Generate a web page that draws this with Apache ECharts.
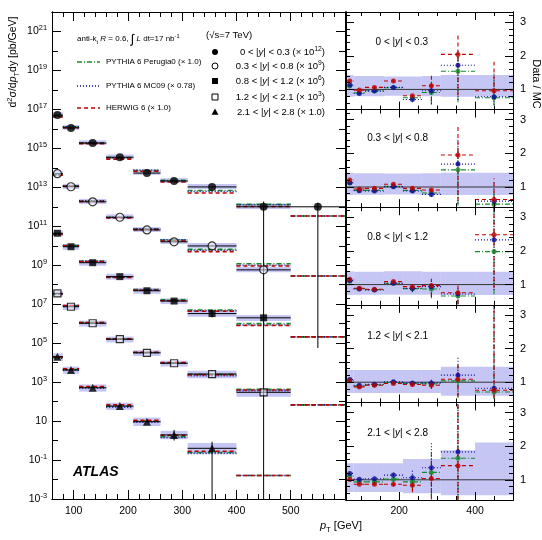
<!DOCTYPE html>
<html>
<head>
<meta charset="utf-8">
<script src="https://cdn.jsdelivr.net/npm/echarts@6/dist/echarts.min.js"></script>
<style>
  html, body { margin: 0; padding: 0; background: #fff; }
  #chart { width: 542px; height: 540px; }
</style>
</head>
<body>
<div id="chart"></div>
<script>
  // pT bins [GeV]
  var binLo = [60, 80, 110, 160, 210, 260, 310, 400, 500];
  var binHi = [80, 110, 160, 210, 260, 310, 400, 500, 600];

  var yBinNames = ['0 < |y| < 0.3', '0.3 < |y| < 0.8', '0.8 < |y| < 1.2', '1.2 < |y| < 2.1', '2.1 < |y| < 2.8'];
  var yBinScale = ['10{sup|12}', '10{sup|9}', '10{sup|6}', '10{sup|3}', '1.0'];

  // measured d2sigma/dpT dy [pb/GeV], already multiplied by the factor in the legend
  var xs_y0 = [5.1e16, 1.12e16, 1.86e15, 3.5e14, 5.4e13, 2.1e13, 1.05e13, 1.0e12, 1.0e12];
  var xs_y1 = [5.0e13, 1.07e13, 1.8e12, 2.9e11, 6.5e10, 1.6e10, 9.8e9, 5.8e8, null];
  var xs_y2 = [4.4e10, 8.9e9, 1.35e9, 2.6e8, 4.9e7, 1.45e7, 3.3e6, 2.0e6, null];
  var xs_y3 = [3.6e7, 7.4e6, 1.05e6, 1.6e5, 3.2e4, 9.3e3, 2.6e3, 3.0e2, null];
  var xs_y4 = [2.0e4, 4.2e3, 5.1e2, 59, 9.3, 1.95, 0.40, null, null];

  // visible statistical error bars on the spectrum (low, high)
  var errLo_y0 = [null, null, null, null, null, null, null, 1e-3, 5.6e4];
  var errHi_y0 = [null, null, null, null, null, null, null, 1.86e12, 1.6e12];
  var errLo_y2 = [null, null, null, null, null, null, 2.1e6, null, null];
  var errHi_y2 = [null, null, null, null, null, null, 5.2e6, null, null];
  var errLo_y4 = [null, null, null, null, null, 1.0, 1e-3, null, null];
  var errHi_y4 = [null, null, null, null, null, 3.5, 0.87, null, null];

  // MC prediction where no data point is shown
  var mcOnly_y0 = [null, null, null, null, null, null, null, null, 3.4e11];
  var mcOnly_y1 = [null, null, null, null, null, null, null, null, 2.8e8];
  var mcOnly_y2 = [null, null, null, null, null, null, null, null, 2.1e5];
  var mcOnly_y3 = [null, null, null, null, null, null, null, null, 68];
  var mcOnly_y4 = [null, null, null, null, null, null, null, 1.6e-2, null];

  // Data / MC, pT bins 60..500
  var herwig_y0  = [1.25, 0.98, 1.06, 1.25, 0.81, 1.11, 2.04, 0.96];
  var mc09_y0    = [1.13, 0.88, 0.95, 1.06, 0.70, 0.96, 1.72, 0.78];
  var perugia_y0 = [1.10, 0.90, 0.96, 1.05, 0.75, 0.91, 1.54, 0.75];
  var herwig_y1  = [1.21, 0.94, 0.96, 1.08, 0.96, 0.91, 1.95, 0.63];
  var mc09_y1    = [1.13, 0.89, 0.88, 1.01, 0.88, 0.78, 1.68, 0.58];
  var perugia_y1 = [1.12, 0.90, 0.90, 1.02, 0.90, 0.82, 1.51, 0.49];
  var herwig_y2  = [1.16, 0.89, 0.86, 1.09, 0.94, 0.97, 0.76, 2.48];
  var mc09_y2    = [1.12, 0.87, 0.84, 1.04, 0.89, 0.94, 0.72, 2.33];
  var perugia_y2 = [1.10, 0.88, 0.85, 1.04, 0.88, 0.87, 0.66, 1.98];
  var herwig_y3  = [1.04, 0.86, 0.91, 0.96, 0.93, 0.91, 1.09, 0.76];
  var mc09_y3    = [1.08, 0.91, 0.94, 1.01, 0.98, 0.98, 1.21, 0.82];
  var perugia_y3 = [1.06, 0.89, 0.92, 0.99, 0.96, 0.95, 1.04, 0.71];
  var herwig_y4  = [1.01, 0.87, 0.87, 0.87, 0.84, 1.04, 1.42, null];
  var mc09_y4    = [1.19, 1.02, 1.03, 1.14, 1.06, 1.36, 1.83, null];
  var perugia_y4 = [1.11, 0.94, 0.94, 1.02, 0.94, 1.22, 1.64, null];

  // relative systematic uncertainty band
  var sysHi_y0 = [1.43, 1.40, 1.40, 1.38, 1.38, 1.40, 1.43, 1.43];
  var sysLo_y0 = [0.78, 0.80, 0.80, 0.81, 0.81, 0.80, 0.78, 0.78];
  var sysHi_y1 = [1.42, 1.41, 1.41, 1.40, 1.40, 1.41, 1.42, 1.42];
  var sysLo_y1 = [0.76, 0.77, 0.77, 0.78, 0.78, 0.77, 0.76, 0.76];
  var sysHi_y2 = [1.40, 1.38, 1.38, 1.40, 1.40, 1.38, 1.38, 1.38];
  var sysLo_y2 = [0.69, 0.70, 0.70, 0.70, 0.70, 0.70, 0.69, 0.69];
  var sysHi_y3 = [1.36, 1.36, 1.36, 1.36, 1.36, 1.36, 1.46, 1.46];
  var sysLo_y3 = [0.68, 0.68, 0.68, 0.68, 0.68, 0.68, 0.60, 0.60];
  var sysHi_y4 = [1.49, 1.49, 1.49, 1.49, 1.62, 1.62, 1.88, 2.11];
  var sysLo_y4 = [0.64, 0.64, 0.64, 0.64, 0.60, 0.60, 0.54, 0.54];

  // relative stat. error on the ratio (up, down)
  var statUp_y0 = [0.03, 0.03, 0.03, 0.04, 0.08, 0.28, 0.28, 0.90];
  var statDn_y0 = [0.03, 0.03, 0.03, 0.04, 0.12, 0.40, 0.60, 0.30];
  var statUp_y1 = [0.03, 0.03, 0.03, 0.04, 0.05, 0.10, 0.45, 1.00];
  var statDn_y1 = [0.03, 0.03, 0.03, 0.04, 0.05, 0.10, 0.70, 0.70];
  var statUp_y2 = [0.03, 0.03, 0.03, 0.04, 0.10, 0.21, 0.30, 1.00];
  var statDn_y2 = [0.03, 0.03, 0.03, 0.04, 0.12, 0.32, 0.42, 0.64];
  var statUp_y3 = [0.03, 0.03, 0.03, 0.04, 0.08, 0.12, 0.45, 4.00];
  var statDn_y3 = [0.03, 0.03, 0.03, 0.04, 0.08, 0.12, 0.48, 0.30];
  var statUp_y4 = [0.04, 0.04, 0.04, 0.08, 0.20, 0.55, 1.30, null];
  var statDn_y4 = [0.04, 0.04, 0.04, 0.08, 0.25, 0.60, 0.75, null];

  var xsData = [xs_y0, xs_y1, xs_y2, xs_y3, xs_y4];
  var errLo = [errLo_y0, null, errLo_y2, null, errLo_y4];
  var errHi = [errHi_y0, null, errHi_y2, null, errHi_y4];
  var mcOnly = [mcOnly_y0, mcOnly_y1, mcOnly_y2, mcOnly_y3, mcOnly_y4];
  var ratios = [
    [perugia_y0, mc09_y0, herwig_y0],
    [perugia_y1, mc09_y1, herwig_y1],
    [perugia_y2, mc09_y2, herwig_y2],
    [perugia_y3, mc09_y3, herwig_y3],
    [perugia_y4, mc09_y4, herwig_y4]
  ];
  var sysHi = [sysHi_y0, sysHi_y1, sysHi_y2, sysHi_y3, sysHi_y4];
  var sysLo = [sysLo_y0, sysLo_y1, sysLo_y2, sysLo_y3, sysLo_y4];
  var statUp = [statUp_y0, statUp_y1, statUp_y2, statUp_y3, statUp_y4];
  var statDn = [statDn_y0, statDn_y1, statDn_y2, statDn_y3, statDn_y4];

  var FONT = '"Liberation Sans", Arial, Helvetica, sans-serif';
  var BAND = '#c6c6f4';
  // Perugia0, MC09, HERWIG
  var mcColor = ['#138a2a', '#0a0a9c', '#c00000'];
  var mcDash = [[5, 2, 1, 2], [1, 2], [4, 3]];
  var markers = ['circle', 'circle', 'rect', 'rect', 'triangle'];
  var markerOpen = [false, true, false, true, false];
  var markerSize = [8, 8, 7, 7, 8];

  var RMIN = 0.4, RMAX = 3.3;

  function range(a, b, step) {
    var out = [];
    for (var v = a; v <= b + 1e-9; v += step) out.push(Math.round(v * 1000) / 1000);
    return out;
  }

  // rich text styles for a given base font size
  function richFor(size) {
    var small = Math.round(size * 0.7 * 10) / 10;
    return {
      sup: { fontSize: small, fontFamily: FONT, verticalAlign: 'top', lineHeight: small + 1, color: '#000' },
      sub: { fontSize: small, fontFamily: FONT, verticalAlign: 'bottom', lineHeight: small + 1, color: '#000' },
      it: { fontSize: size, fontStyle: 'italic', fontFamily: FONT, color: '#000' },
      big: { fontSize: size * 1.6, fontFamily: FONT, color: '#000' }
    };
  }

  var grids = [{ left: 52, top: 12, width: 293, height: 487 }];
  var panelTop = [12, 109.6, 207.2, 304.8, 402.4];
  var panelH = 97.6;
  panelTop.forEach(function (t) { grids.push({ left: 346, top: t, width: 167, height: panelH }); });

  var xAxes = [], yAxes = [];

  function axis(gridIndex, pos, min, max, ticks, len, labels, labelOpt) {
    return {
      type: 'value', gridIndex: gridIndex, position: pos, min: min, max: max, z: 10,
      axisLine: { show: true, onZero: false, lineStyle: { color: '#000', width: 1 } },
      axisTick: { show: true, inside: true, length: len, customValues: ticks, lineStyle: { color: '#000', width: 1 } },
      axisLabel: labels ? Object.assign({ show: true, customValues: labels, color: '#000', fontFamily: FONT, fontSize: 10.5 }, labelOpt || {}) : { show: false },
      splitLine: { show: false }
    };
  }

  // spectrum panel
  xAxes.push(axis(0, 'bottom', 60, 600, range(100, 500, 100), 9, range(100, 500, 100), { margin: 7 }));
  xAxes.push(axis(0, 'bottom', 60, 600, range(60, 600, 20), 5));
  xAxes.push(axis(0, 'top', 60, 600, range(100, 500, 100), 9));
  xAxes.push(axis(0, 'top', 60, 600, range(60, 600, 20), 5));
  var logMajor = range(-3, 21, 2);
  yAxes.push(axis(0, 'left', -3, 22, logMajor, 9, logMajor, {
    margin: 5, lineHeight: 14, rich: richFor(10.5),
    formatter: function (v) { var n = Math.round(v); return n === 1 ? '10' : '10{sup|' + n + '}'; }
  }));
  yAxes.push(axis(0, 'left', -3, 22, range(-2, 22, 2), 6));
  yAxes.push(axis(0, 'right', -3, 22, logMajor, 9));
  yAxes.push(axis(0, 'right', -3, 22, range(-2, 22, 2), 6));
  var mainX = 0, mainY = 0;

  // ratio panels
  var ratioX = [], ratioY = [];
  for (var k = 0; k < 5; k++) {
    var g = k + 1;
    var last = k === 4;
    ratioX.push(xAxes.length);
    xAxes.push(axis(g, 'bottom', 60, 500, [200, 400], 8, last ? [200, 400] : null, { margin: 6 }));
    xAxes.push(axis(g, 'bottom', 60, 500, range(100, 450, 50), 4));
    xAxes.push(axis(g, 'top', 60, 500, [200, 400], 8));
    xAxes.push(axis(g, 'top', 60, 500, range(100, 450, 50), 4));
    ratioY.push(yAxes.length);
    yAxes.push(axis(g, 'left', RMIN, RMAX, [1, 2, 3], 8));
    yAxes.push(axis(g, 'left', RMIN, RMAX, range(0.6, 3.2, 0.2), 4));
    yAxes.push(axis(g, 'right', RMIN, RMAX, [1, 2, 3], 8, [1, 2, 3], { margin: 7, fontSize: 11 }));
    yAxes.push(axis(g, 'right', RMIN, RMAX, range(0.6, 3.2, 0.2), 4));
  }

  function renderer(kind, style) {
    return function (params, api) {
      var st = Object.assign({}, style);
      if (kind === 'rect') {
        var a = api.coord([api.value(0), api.value(3)]);
        var b = api.coord([api.value(1), api.value(2)]);
        return { type: 'rect', shape: { x: a[0], y: a[1], width: b[0] - a[0], height: b[1] - a[1] }, style: st };
      }
      if (kind === 'h') {
        var p = api.coord([api.value(0), api.value(2)]);
        var q = api.coord([api.value(1), api.value(2)]);
        return { type: 'line', shape: { x1: p[0], y1: p[1], x2: q[0], y2: q[1] }, style: st };
      }
      var u = api.coord([api.value(0), api.value(1)]);
      var w = api.coord([api.value(0), api.value(2)]);
      return { type: 'line', shape: { x1: u[0], y1: u[1], x2: w[0], y2: w[1] }, style: st };
    };
  }

  function custom(xi, yi, kind, style, data, z) {
    return { type: 'custom', xAxisIndex: xi, yAxisIndex: yi, renderItem: renderer(kind, style), data: data, z: z, silent: true, clip: true, animation: false };
  }

  var series = [];
  var lg = Math.log10;

  for (var s = 0; s < 5; s++) {
    var d = xsData[s];
    var band = [], xerr = [], verr = [], pts = [];
    var mcLines = [[], [], []];
    for (var i = 0; i < 9; i++) {
      var c = (binLo[i] + binHi[i]) / 2;
      if (d[i] != null) {
        if (i < 8) band.push([binLo[i], binHi[i], lg(d[i] * sysLo[s][i]), lg(d[i] * sysHi[s][i])]);
        xerr.push([binLo[i], binHi[i], lg(d[i])]);
        pts.push([c, lg(d[i])]);
        if (errLo[s] && errLo[s][i] != null) verr.push([c, lg(errLo[s][i]), lg(errHi[s][i])]);
        for (var m = 0; m < 3; m++) {
          if (i < 8 && ratios[s][m][i] != null) mcLines[m].push([binLo[i], binHi[i], lg(d[i] / ratios[s][m][i])]);
        }
      }
      if (mcOnly[s][i] != null) {
        for (var m2 = 0; m2 < 3; m2++) mcLines[m2].push([binLo[i], binHi[i], lg(mcOnly[s][i])]);
      }
    }
    series.push(custom(mainX, mainY, 'rect', { fill: BAND }, band, 1));
    for (var m3 = 0; m3 < 3; m3++) {
      series.push(custom(mainX, mainY, 'h', { stroke: mcColor[m3], lineWidth: 1.6, lineDash: mcDash[m3] }, mcLines[m3], 3));
    }
    series.push(custom(mainX, mainY, 'h', { stroke: '#000', lineWidth: 1 }, xerr, 4));
    series.push(custom(mainX, mainY, 'v', { stroke: '#000', lineWidth: 1 }, verr, 4));
    series.push({
      type: 'scatter', xAxisIndex: mainX, yAxisIndex: mainY, data: pts, z: 5, silent: true, animation: false,
      symbol: markers[s], symbolSize: markerSize[s],
      itemStyle: markerOpen[s] ? { color: 'rgba(255,255,255,0.6)', borderColor: '#000', borderWidth: 1.2 } : { color: '#000' }
    });
  }

  function clampR(v) { return Math.max(RMIN, Math.min(RMAX, v)); }

  for (var p = 0; p < 5; p++) {
    var xi = ratioX[p], yi = ratioY[p];
    var rb = [];
    for (var j = 0; j < 8; j++) rb.push([binLo[j], binHi[j], sysLo[p][j], sysHi[p][j]]);
    series.push(custom(xi, yi, 'rect', { fill: BAND }, rb, 1));
    series.push(custom(xi, yi, 'h', { stroke: '#333', lineWidth: 1 }, [[60, 500, 1]], 2));
    for (var mm = 0; mm < 3; mm++) {
      var r = ratios[p][mm];
      var hz = [], vt = [], rp = [];
      for (var b2 = 0; b2 < 8; b2++) {
        if (r[b2] == null) continue;
        var cx = (binLo[b2] + binHi[b2]) / 2;
        hz.push([binLo[b2], binHi[b2], r[b2]]);
        vt.push([cx, clampR(r[b2] * (1 - statDn[p][b2])), clampR(r[b2] * (1 + statUp[p][b2]))]);
        rp.push([cx, r[b2]]);
      }
      var ls = { stroke: mcColor[mm], lineWidth: 1.1, lineDash: mcDash[mm] };
      series.push(custom(xi, yi, 'h', ls, hz, 3));
      series.push(custom(xi, yi, 'v', ls, vt, 3));
      series.push({
        type: 'scatter', xAxisIndex: xi, yAxisIndex: yi, data: rp, z: 5, silent: true, animation: false,
        symbol: 'circle', symbolSize: 5, itemStyle: { color: mcColor[mm] }
      });
    }
  }

  // texts and legend
  var txt = { fontFamily: FONT, fill: '#000' };
  var graphics = [];
  function text(x, y, str, size, extra) {
    graphics.push({
      type: 'text', x: x, y: y, z: 20, silent: true,
      style: Object.assign({}, txt, { text: str, fontSize: size, rich: richFor(size), lineHeight: size + 4, textVerticalAlign: 'middle', verticalAlign: 'middle' }, extra || {})
    });
  }

  text(77, 39, 'anti-k{sub|t} {it|R} = 0.6, {big|∫} {it|L} dt=17 nb{sup|-1}', 8);

  var legNames = ['PYTHIA 6 Perugia0 (× 1.0)', 'PYTHIA 6 MC09 (× 0.78)', 'HERWIG 6 (× 1.0)'];
  var legY = [62, 86, 108];
  for (var l = 0; l < 3; l++) {
    graphics.push({ type: 'line', z: 20, silent: true, shape: { x1: 77, y1: legY[l], x2: 100, y2: legY[l] },
      style: { stroke: mcColor[l], lineWidth: 1.6, lineDash: mcDash[l] } });
    text(106, legY[l], legNames[l], 8);
  }

  text(206, 35, '(√s=7 TeV)', 9.5);
  var mkY = [52, 66, 81, 97, 112];
  for (var q2 = 0; q2 < 5; q2++) {
    var y0 = mkY[q2];
    var sh;
    if (q2 === 0) sh = { type: 'circle', shape: { cx: 215, cy: y0, r: 3 }, style: { fill: '#000' } };
    if (q2 === 1) sh = { type: 'circle', shape: { cx: 215, cy: y0, r: 3 }, style: { fill: '#fff', stroke: '#000', lineWidth: 1 } };
    if (q2 === 2) sh = { type: 'rect', shape: { x: 212, y: y0 - 3, width: 6, height: 6 }, style: { fill: '#000' } };
    if (q2 === 3) sh = { type: 'rect', shape: { x: 212, y: y0 - 3, width: 6, height: 6 }, style: { fill: '#fff', stroke: '#000', lineWidth: 1 } };
    if (q2 === 4) sh = { type: 'polygon', shape: { points: [[215, y0 - 3.5], [218.5, y0 + 2.8], [211.5, y0 + 2.8]] }, style: { fill: '#000' } };
    sh.z = 20; sh.silent = true;
    graphics.push(sh);
    var nm = yBinNames[q2].replace(/\|y\|/, '|{it|y}|');
    text(325, y0, nm + ' (× ' + yBinScale[q2] + ')', 9.5, { align: 'right', textAlign: 'right' });
  }

  text(73, 472, 'ATLAS', 14, { fontWeight: 'bold', fontStyle: 'italic' });

  graphics.push({
    type: 'text', x: 13, y: 62, rotation: Math.PI / 2, z: 20, silent: true,
    style: Object.assign({}, txt, {
      text: 'd{sup|2}σ/d{it|p}{sub|T}dy [pb/GeV]', fontSize: 10.5, rich: richFor(10.5), lineHeight: 14,
      align: 'center', textAlign: 'center', verticalAlign: 'middle', textVerticalAlign: 'middle'
    })
  });
  text(320, 526, '{it|p}{sub|T} [GeV]', 11);
  graphics.push({
    type: 'text', x: 536, y: 84, rotation: -Math.PI / 2, z: 20, silent: true,
    style: Object.assign({}, txt, { text: 'Data / MC', fontSize: 11, align: 'center', textAlign: 'center', verticalAlign: 'middle', textVerticalAlign: 'middle' })
  });

  var panelLabelY = [42, 138, 237, 336, 433];
  for (var pl = 0; pl < 5; pl++) {
    text(428, panelLabelY[pl], yBinNames[pl].replace(/\|y\|/, '|{it|y}|'), 10, { align: 'right', textAlign: 'right' });
  }

  var chart = echarts.init(document.getElementById('chart'));
  chart.setOption({
    animation: false,
    backgroundColor: '#fff',
    grid: grids,
    xAxis: xAxes,
    yAxis: yAxes,
    series: series,
    graphic: graphics
  });
</script>
</body>
</html>
